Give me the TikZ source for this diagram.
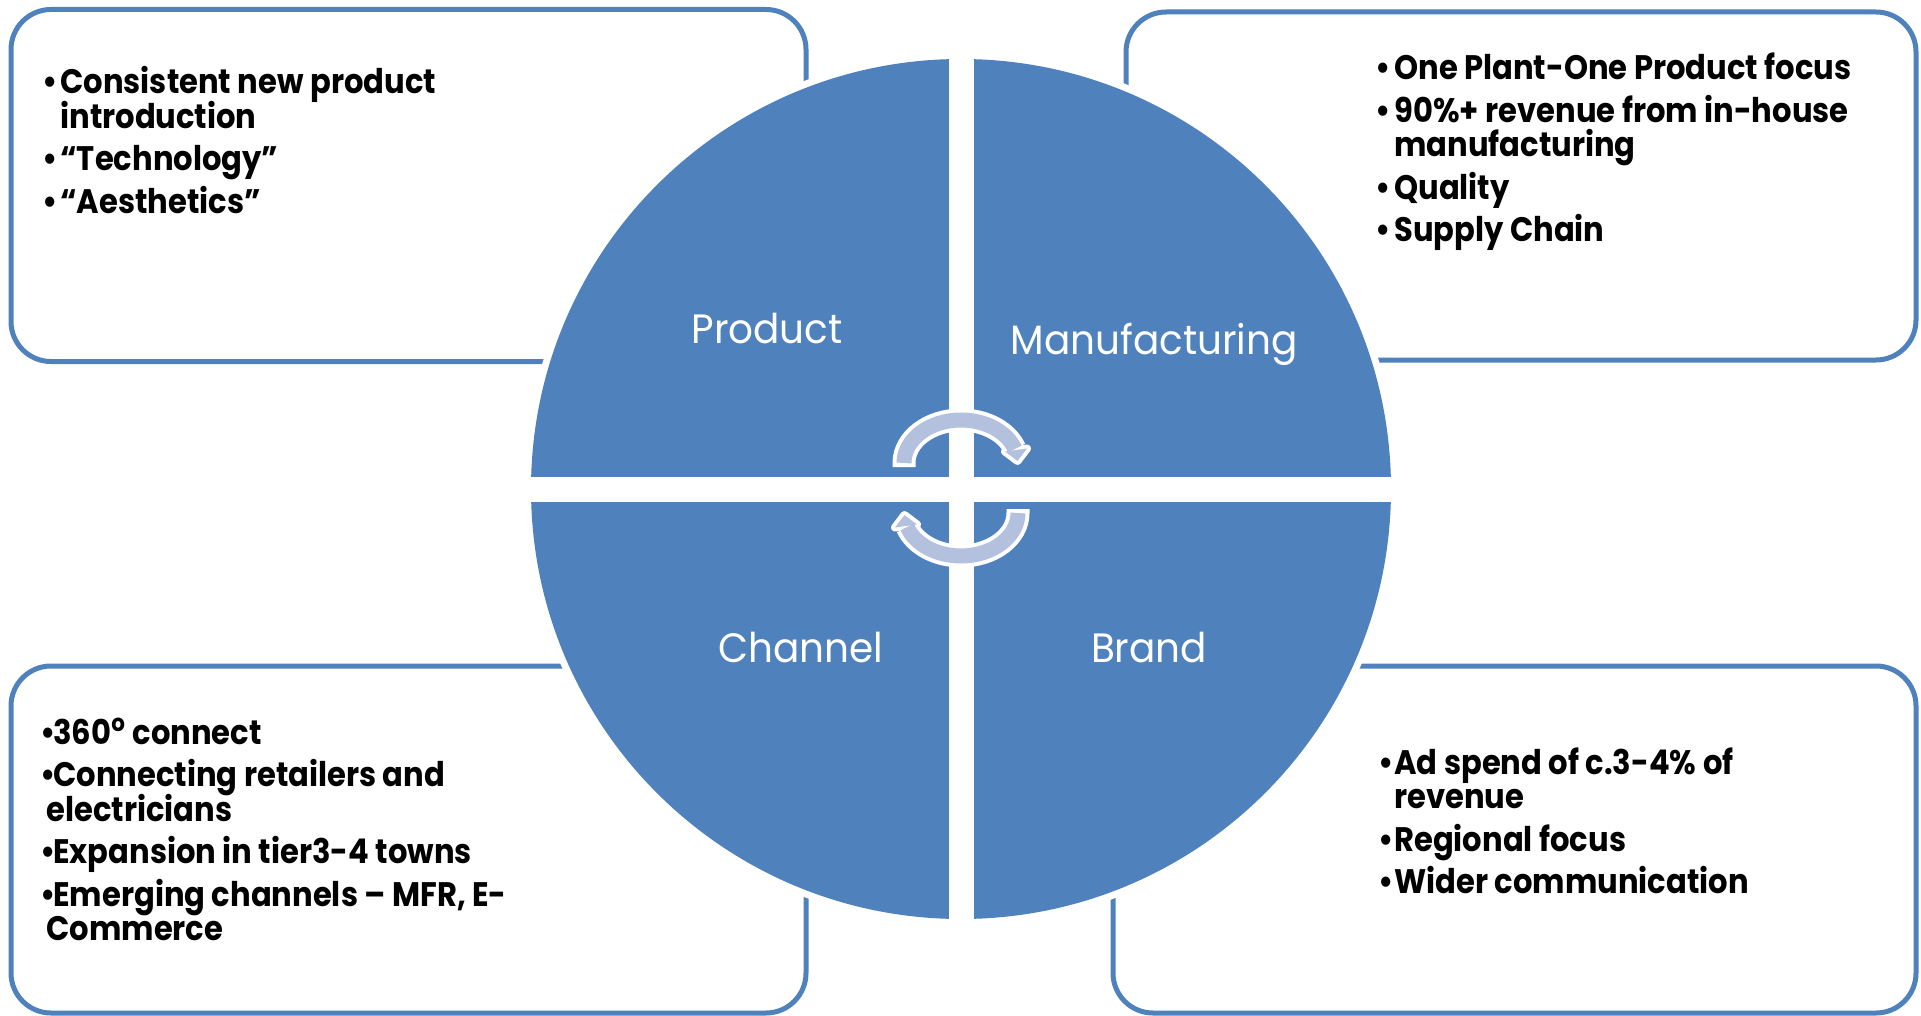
\documentclass[tikz,border=0pt]{standalone}
\usepackage{fontspec}
\setmainfont{Poppins}[FakeStretch=0.90]
\newfontfamily\lblfont{Poppins}[FakeStretch=0.95]
\definecolor{accent}{HTML}{4F81BD}
\definecolor{arrowfill}{RGB}{179,193,222}
\newlength\bind
\newcommand\blist[2]{\setlength\bind{#1}\baselineskip=17.25pt\lineskiplimit=-50pt\lineskip=0pt\parskip=#2\relax}
\newcommand\bitem[1]{\par\noindent\hangindent=\bind\hangafter=1\makebox[\bind][l]{•}#1\par}
\begin{document}
\begin{tikzpicture}[x=0.5pt,y=-0.5pt,
  boxstyle/.style={draw=accent, line width=2.5pt, rounded corners=20pt},
  quadlabel/.style={text=white, font=\lblfont\fontsize{20.5}{24}\selectfont, inner sep=0pt, anchor=base},
  bullets/.style={font=\fontsize{17}{17.25}\selectfont\bfseries, inner sep=0pt, anchor=base west},
  shaftwhite/.style={draw=white, line width=11.5pt},
  shaftfill/.style={draw=arrowfill, line width=7.5pt},
  headwhite/.style={draw=white, fill=white, line width=4pt, line join=round},
  headfill/.style={fill=arrowfill}
]
\useasboundingbox (0,0) rectangle (1921,1016);

% boxes
\draw[boxstyle] (11,9.5) rectangle (806,361.5);
\draw[boxstyle] (1126,12) rectangle (1916,360);
\draw[boxstyle] (11,666) rectangle (806,1013);
\draw[boxstyle] (1113,666) rectangle (1916,1013);

% circle with white halo
\coordinate (c) at (961,489);
\fill[white] (c) circle[radius=218.5pt];
\fill[accent] (c) circle[radius=215pt];
\fill[white] (948.5,50) rectangle (973.5,930);
\fill[white] (520,476.5) rectangle (1402,501.5);

% quadrant labels
\node[quadlabel] (lprod) at (767,343) {Product};
\node[quadlabel] (lman) at (1154,354) {Manufacturing};
\node[quadlabel] (lchan) at (801,662) {Channel};
\node[quadlabel] (lbrand) at (1149,662) {Brand};

% circular arrows
\begin{scope}
  \draw[shaftwhite] (904,467) -- (904,463) arc[start angle=180, end angle=19, x radius=28.5pt, y radius=21.5pt];
  \filldraw[headwhite] (1005,451.5) -- (1027,448.5) -- (1017.5,461) -- cycle;
  \draw[shaftfill] (904,463) arc[start angle=180, end angle=19, x radius=28.5pt, y radius=21.5pt];
  \fill[headfill] (1005,451.5) -- (1027,448.5) -- (1017.5,461) -- cycle;
\end{scope}
\begin{scope}[rotate around={180:(961,488)}]
  \draw[shaftwhite] (904,467) -- (904,463) arc[start angle=180, end angle=19, x radius=28.5pt, y radius=21.5pt];
  \filldraw[headwhite] (1005,451.5) -- (1027,448.5) -- (1017.5,461) -- cycle;
  \draw[shaftfill] (904,463) arc[start angle=180, end angle=19, x radius=28.5pt, y radius=21.5pt];
  \fill[headfill] (1005,451.5) -- (1027,448.5) -- (1017.5,461) -- cycle;
\end{scope}

% bullet texts
\node[bullets] (ttl) at (42,94) {\parbox[t]{330pt}{\blist{9pt}{4pt}%
\bitem{Consistent new product\\introduction}
\bitem{“Technology”}
\bitem{“Aesthetics”}}};

\node[bullets] (ttr) at (1375,80) {\parbox[t]{270pt}{\blist{9.5pt}{4pt}%
\bitem{One Plant-One Product focus}
\bitem{90\%+ revenue from in-house\\manufacturing}
\bitem{Quality}
\bitem{Supply Chain}}};

\node[bullets] (tbl) at (40,744) {\parbox[t]{330pt}{\blist{6.5pt}{4pt}%
\bitem{360\textsuperscript{o} connect}
\bitem{Connecting retailers and\\\hspace*{-3.5pt}electricians}
\bitem{Expansion in tier3-4 towns}
\bitem{Emerging channels – MFR, E-\\\hspace*{-3.5pt}Commerce}}};

\node[bullets] (tbr) at (1378,774) {\parbox[t]{260pt}{\blist{8pt}{4pt}%
\bitem{Ad spend of c.3-4\% of\\revenue}
\bitem{Regional focus}
\bitem{Wider communication}}};
\end{tikzpicture}
\end{document}
